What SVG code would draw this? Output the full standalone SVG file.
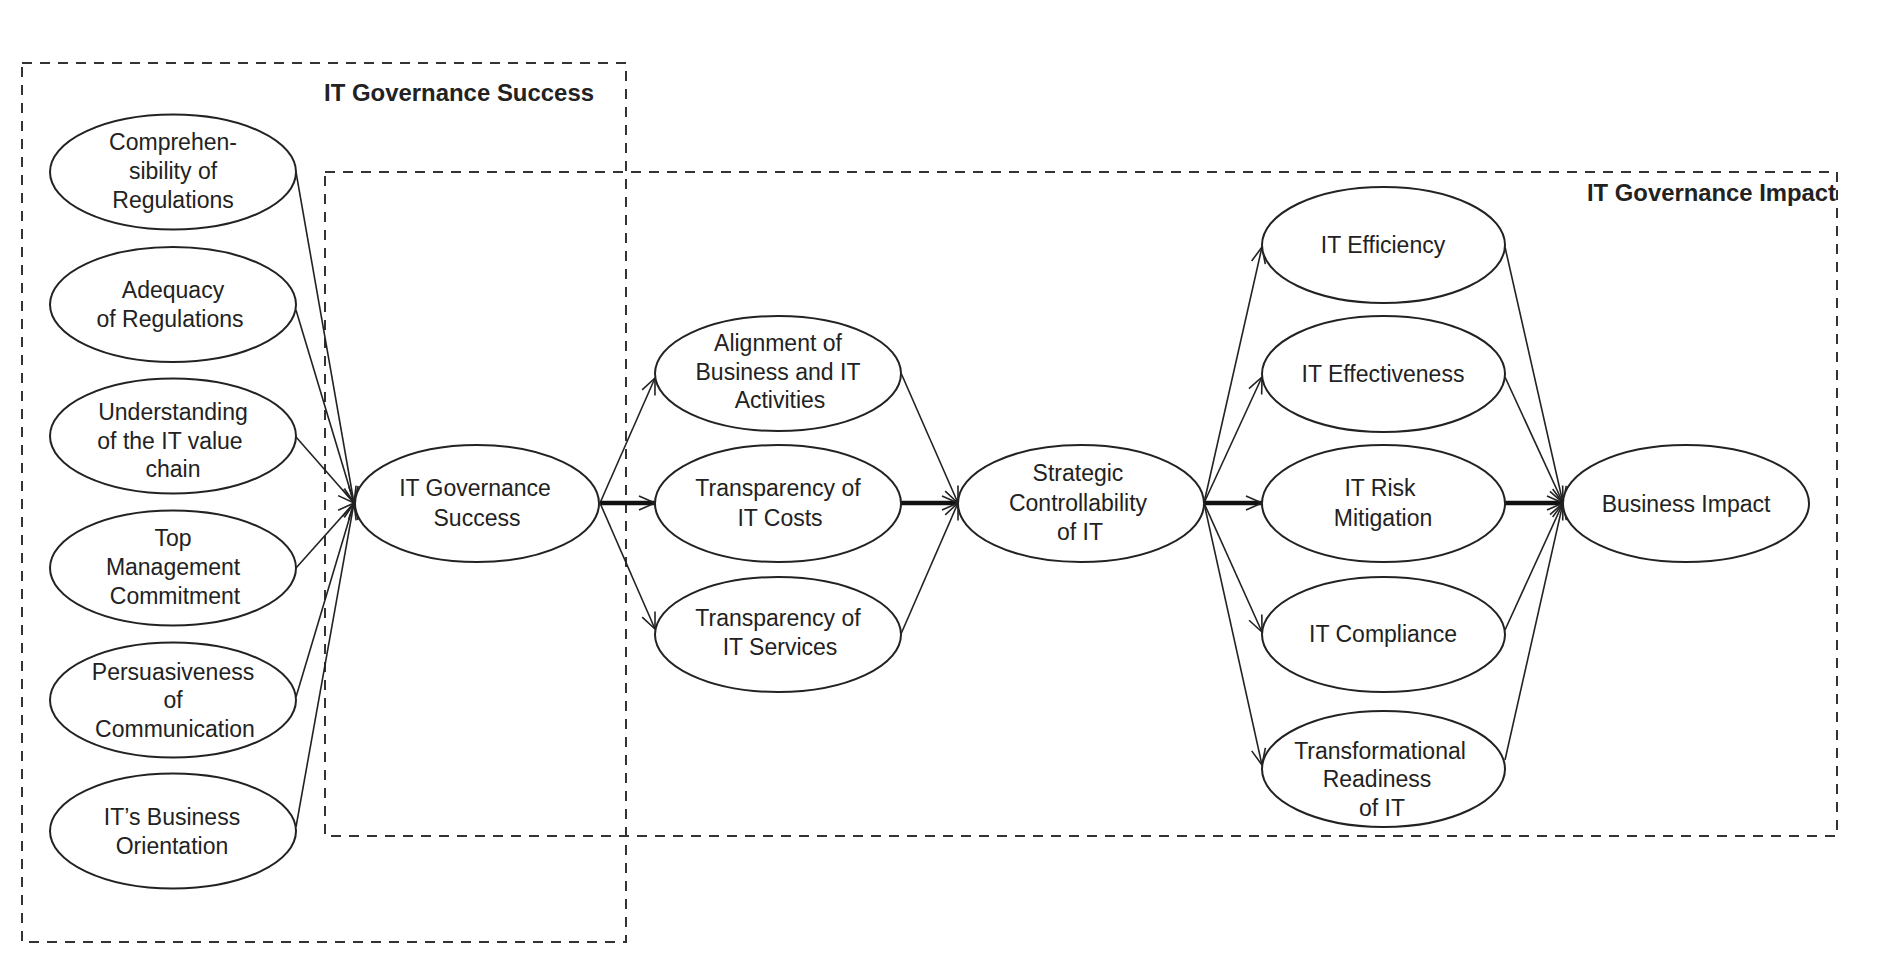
<svg xmlns="http://www.w3.org/2000/svg" width="1880" height="965" viewBox="0 0 1880 965">
<style>
.box{fill:none;stroke:#333;stroke-width:2;stroke-dasharray:10 8}
.node ellipse{fill:#fff;stroke:#222;stroke-width:2}
.node text{font-family:"Liberation Sans",Arial,sans-serif;font-size:23px;fill:#222;text-anchor:middle}
.title{font-family:"Liberation Sans",Arial,sans-serif;font-size:23px;font-weight:bold;fill:#222}
.c{fill:none;stroke:#222;stroke-width:1.6;marker-end:url(#arr)}
.t{fill:none;stroke:#111;stroke-width:4.5;marker-end:url(#arr)}
</style>
<defs>
<marker id="arr" markerUnits="userSpaceOnUse" markerWidth="20" markerHeight="20" viewBox="-18 -10 20 20" refX="0" refY="0" orient="auto">
<path d="M-16,-7 L0,0 L-16,7" fill="none" stroke="#222" stroke-width="1.6"/>
</marker>
</defs>
<rect width="1880" height="965" fill="#fff"/>
<g id="groups">
<rect class="box" x="22" y="63" width="604" height="879"/>
<rect class="box" x="325" y="172" width="1512" height="664"/>
<text class="title" x="324" y="101" textLength="270" lengthAdjust="spacingAndGlyphs">IT Governance Success</text>
<text class="title" x="1587" y="201" textLength="249" lengthAdjust="spacingAndGlyphs">IT Governance Impact</text>
</g>
<g id="connectors">
<line class="c" x1="296" y1="172" x2="354" y2="503"/>
<line class="c" x1="296" y1="310" x2="354" y2="503"/>
<line class="c" x1="296" y1="437" x2="354" y2="503"/>
<line class="c" x1="296" y1="568" x2="354" y2="503"/>
<line class="c" x1="296" y1="697" x2="354" y2="503"/>
<line class="c" x1="296" y1="827" x2="354" y2="503"/>
<line class="c" x1="600" y1="503" x2="655" y2="378"/>
<line class="t" x1="600" y1="503" x2="655" y2="503"/>
<line class="c" x1="600" y1="503" x2="655" y2="629"/>
<line class="c" x1="901" y1="373" x2="958" y2="503"/>
<line class="t" x1="901" y1="503" x2="958" y2="503"/>
<line class="c" x1="901" y1="634" x2="958" y2="503"/>
<line class="c" x1="1204" y1="503" x2="1262" y2="247"/>
<line class="c" x1="1204" y1="503" x2="1262" y2="377"/>
<line class="t" x1="1204" y1="503" x2="1262" y2="503"/>
<line class="c" x1="1204" y1="503" x2="1262" y2="632"/>
<line class="c" x1="1204" y1="503" x2="1262" y2="765"/>
<line class="c" x1="1505" y1="247" x2="1563" y2="503"/>
<line class="c" x1="1505" y1="377" x2="1563" y2="503"/>
<line class="t" x1="1505" y1="503" x2="1563" y2="503"/>
<line class="c" x1="1505" y1="630" x2="1563" y2="503"/>
<line class="c" x1="1505" y1="760" x2="1563" y2="503"/>
</g>
<g id="n-comprehensibility" class="node"><ellipse cx="173" cy="172" rx="123" ry="57.5"/><text x="173" y="150">Comprehen-</text><text x="173" y="179">sibility of</text><text x="173" y="208">Regulations</text></g>
<g id="n-adequacy" class="node"><ellipse cx="173" cy="304.5" rx="123" ry="57.5"/><text x="173" y="298">Adequacy</text><text x="170" y="327">of Regulations</text></g>
<g id="n-understanding" class="node"><ellipse cx="173" cy="436" rx="123" ry="57.5"/><text x="173" y="420">Understanding</text><text x="170" y="449">of the IT value</text><text x="173" y="477">chain</text></g>
<g id="n-topmgmt" class="node"><ellipse cx="173" cy="568" rx="123" ry="57.5"/><text x="173" y="546">Top</text><text x="173" y="575">Management</text><text x="175" y="604">Commitment</text></g>
<g id="n-persuasiveness" class="node"><ellipse cx="173" cy="700" rx="123" ry="57.5"/><text x="173" y="680">Persuasiveness</text><text x="173" y="708">of</text><text x="175" y="737">Communication</text></g>
<g id="n-business-orientation" class="node"><ellipse cx="173" cy="831" rx="123" ry="57.5"/><text x="172" y="825">IT’s Business</text><text x="172" y="854">Orientation</text></g>
<g id="n-itgs" class="node"><ellipse cx="477" cy="503.5" rx="122" ry="58.5"/><text x="475" y="496">IT Governance</text><text x="477" y="526">Success</text></g>
<g id="n-alignment" class="node"><ellipse cx="778" cy="373.5" rx="123" ry="57.5"/><text x="778" y="351">Alignment of</text><text x="778" y="380">Business and IT</text><text x="780" y="408">Activities</text></g>
<g id="n-costs" class="node"><ellipse cx="778" cy="503.5" rx="123" ry="58.5"/><text x="778" y="496">Transparency of</text><text x="780" y="526">IT Costs</text></g>
<g id="n-services" class="node"><ellipse cx="778" cy="634.5" rx="123" ry="57.5"/><text x="778" y="626">Transparency of</text><text x="780" y="655">IT Services</text></g>
<g id="n-strategic" class="node"><ellipse cx="1081" cy="503.5" rx="123" ry="58.5"/><text x="1078" y="481">Strategic</text><text x="1078" y="511">Controllability</text><text x="1080" y="540">of IT</text></g>
<g id="n-efficiency" class="node"><ellipse cx="1383.5" cy="245" rx="121.5" ry="58"/><text x="1383" y="253">IT Efficiency</text></g>
<g id="n-effectiveness" class="node"><ellipse cx="1383.5" cy="374" rx="121.5" ry="58"/><text x="1383" y="382">IT Effectiveness</text></g>
<g id="n-risk" class="node"><ellipse cx="1383.5" cy="503.5" rx="121.5" ry="58.5"/><text x="1380" y="496">IT Risk</text><text x="1383" y="526">Mitigation</text></g>
<g id="n-compliance" class="node"><ellipse cx="1383.5" cy="634.5" rx="121.5" ry="57.5"/><text x="1383" y="642">IT Compliance</text></g>
<g id="n-transformational" class="node"><ellipse cx="1383.5" cy="769" rx="121.5" ry="58"/><text x="1380" y="759">Transformational</text><text x="1377" y="787">Readiness</text><text x="1382" y="816">of IT</text></g>
<g id="n-business-impact" class="node"><ellipse cx="1686" cy="503.5" rx="123" ry="58.5"/><text x="1686" y="512">Business Impact</text></g>
</svg>
